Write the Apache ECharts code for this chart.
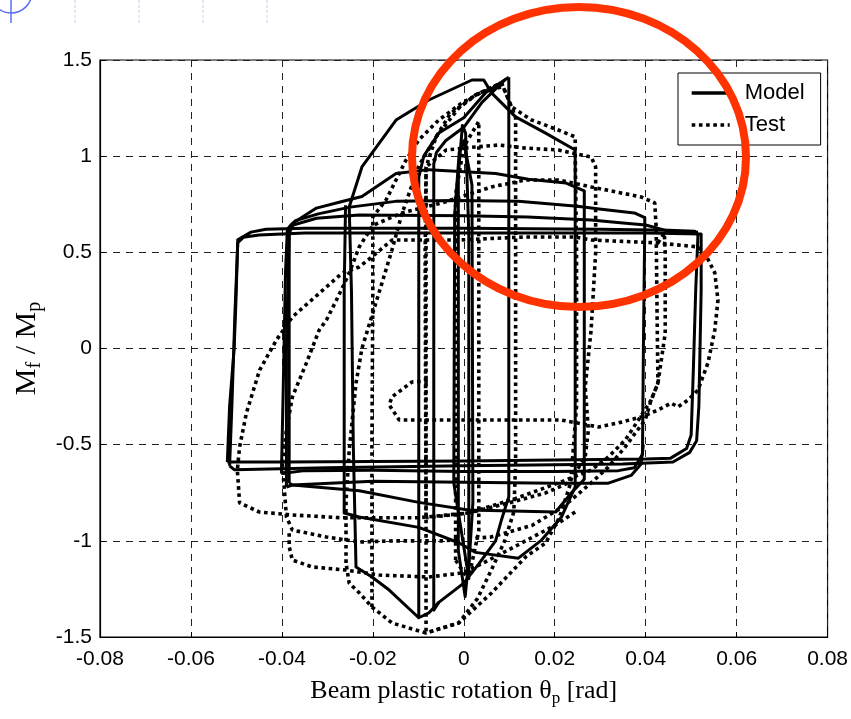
<!DOCTYPE html>
<html><head><meta charset="utf-8">
<script src="https://cdn.jsdelivr.net/npm/echarts@6/dist/echarts.min.js"></script>
<style>html,body{margin:0;padding:0;background:#fff}#c{width:851px;height:719px}</style>
</head><body><div id="c"></div>
<script>
// ---- axis ranges / ticks ----
const X_MIN = -0.08, X_MAX = 0.08, X_STEP = 0.02;
const Y_MIN = -1.5, Y_MAX = 1.5, Y_STEP = 0.5;

// ---- Model (solid) hysteresis paths: [rotation, Mf/Mp] ----
const modelSpikeA = [[-0.0012,-1.05],[-0.0012,0.9],[-0.0003,1.16],[0.0004,1.12],[0.0011,0.6],[0.0011,-1.1],[0.0003,-1.29],[-0.0012,-1.05]];
const modelSpikeB = [[-0.0022,-0.7],[-0.002,0.7],[-0.001,1.02],[0.0,1.08],[0.0018,0.85],[0.002,-0.8],[0.001,-1.18],[-0.0022,-0.7]];
const modelCycle10 = [[0.0099,1.41],[0.0099,-0.77],[0.0083,-0.89],[0.007,-1.0],[0.0033,-1.12],[0.0,-1.22],[-0.0055,-1.32],[-0.0077,-1.375],[-0.0099,-1.40],[-0.0099,0.89],[-0.0088,1.0],[-0.0055,1.12],[0.0,1.20],[0.0048,1.33],[0.0092,1.40],[0.0099,1.41]];
const modelCycle07 = [[-0.0055,-1.32],[-0.0066,-1.36],[-0.0066,0.96],[-0.006,1.02],[-0.004,1.08],[0.0,1.15],[0.004,1.28],[0.0092,1.40]];
const modelCycle25 = [[-0.0099,-1.40],[-0.0164,-1.256],[-0.0202,-1.188],[-0.0237,-1.136],[-0.0243,-0.5],[-0.0247,0.3],[-0.0252,0.736],[-0.0224,0.944],[-0.0149,1.188],[-0.0077,1.292],[0.0018,1.396],[0.0044,1.396],[0.0061,1.329],[0.0114,1.204],[0.018,1.12],[0.0245,1.032],[0.0245,-0.72],[0.0215,-0.876],[0.0171,-0.996],[0.012,-1.09],[0.0026,-1.06],[-0.0011,-1.01],[-0.0099,-0.93],[-0.023,-0.876],[-0.0263,-0.855],[-0.0263,0.3],[-0.026,0.745]];
const modelCycle27 = [[-0.0384,-0.70],[-0.0384,0.63],[-0.0377,0.65],[-0.0324,0.73],[-0.0274,0.76],[-0.0224,0.79],[-0.0149,0.91],[-0.0077,0.93],[0.007,0.91],[0.0142,0.88],[0.0225,0.86],[0.0265,0.82],[0.0265,-0.68],[0.0237,-0.75],[0.0202,-0.85],[0.001,-0.84],[-0.0099,-0.80],[-0.023,-0.74],[-0.0377,-0.71],[-0.0384,-0.70]];
const modelCycle40 = [[-0.0401,-0.65],[-0.0397,-0.2],[-0.0392,0.4],[-0.0388,0.62],[-0.037,0.665],[-0.032,0.70],[-0.025,0.735],[-0.015,0.765],[-0.002,0.77],[0.012,0.765],[0.025,0.74],[0.0298,0.725],[0.0375,0.705],[0.0398,0.68],[0.0398,0.63],[0.0395,0.0],[0.0393,-0.55],[0.0375,-0.62],[0.034,-0.635],[0.02,-0.64],[0.0,-0.64],[-0.02,-0.633],[-0.035,-0.635],[-0.0401,-0.65]];
const modelPath40to52 = [[-0.039,-0.72],[-0.039,0.0],[-0.0384,0.6],[-0.0375,0.642],[-0.0324,0.677],[-0.023,0.694],[0.0,0.69],[0.014,0.684],[0.028,0.668],[0.035,0.652],[0.040,0.642],[0.045,0.61],[0.0515,0.605]];
const modelCycle40b = [[0.0395,-0.5],[0.039,-0.6],[0.0368,-0.66],[0.0318,-0.70],[0.02,-0.70],[0.0,-0.695],[-0.02,-0.69],[-0.0377,-0.71],[-0.039,-0.72]];
const modelCycle52a = [[-0.052,-0.59],[-0.0515,-0.3],[-0.0505,0.0],[-0.0501,0.25],[-0.0497,0.565],[-0.0468,0.605],[-0.0435,0.62],[-0.035,0.625],[0.0,0.625],[0.03,0.62],[0.045,0.615],[0.0508,0.61],[0.0515,0.59],[0.051,0.3],[0.0505,-0.1],[0.050,-0.45],[0.049,-0.52],[0.0455,-0.57],[0.04,-0.575],[0.0,-0.585],[-0.04,-0.59],[-0.052,-0.59]];
const modelCycle52b = [[-0.0515,-0.61],[-0.051,-0.3],[-0.0503,0.2],[-0.0497,0.55],[-0.0485,0.578],[-0.045,0.59],[-0.035,0.6],[0.0,0.6],[0.04,0.6],[0.0522,0.595],[0.0522,0.3],[0.0517,-0.3],[0.0512,-0.48],[0.0497,-0.54],[0.046,-0.59],[0.035,-0.60],[0.0,-0.61],[-0.03,-0.62],[-0.0505,-0.63],[-0.0515,-0.61]];

// ---- Test (dotted) hysteresis paths ----
const testSmall = [[-0.0018,-1.1],[-0.0018,0.8],[0.0,1.05],[0.0033,1.18],[0.0033,-0.95],[0.001,-1.2],[-0.0018,-1.1]];
const testCycle10 = [[-0.0083,-1.47],[-0.0083,-0.5],[-0.0083,0.5],[-0.0083,0.944],[-0.0061,1.1],[-0.003,1.22],[0.0026,1.318],[0.0083,1.381],[0.0105,1.256],[0.0114,1.2],[0.0114,0.0],[0.0114,-0.6],[0.011,-0.85],[0.009,-1.0],[0.0061,-1.15],[0.003,-1.3],[-0.0011,-1.427],[-0.0083,-1.479]];
const testCycle20 = [[-0.0202,-1.344],[-0.0202,-0.5],[-0.020,0.3],[-0.020,0.684],[-0.0171,0.772],[-0.0149,0.876],[-0.0127,0.98],[-0.0099,1.084],[-0.0055,1.188],[-0.0004,1.277],[0.004,1.334],[0.0083,1.36]];
const testCycle25 = [[-0.0259,-1.115],[-0.0259,-0.8],[-0.0252,-0.53],[-0.0237,-0.18],[-0.0224,0.0],[-0.0202,0.17],[-0.018,0.34],[-0.0158,0.512],[-0.0136,0.70],[-0.0099,0.95],[-0.0061,1.10],[-0.0011,1.25],[0.0026,1.318],[0.0083,1.381],[0.0105,1.256],[0.0149,1.188],[0.0208,1.136],[0.0245,1.1],[0.0245,1.03],[0.0248,0.5],[0.0248,-0.3],[0.0235,-0.7],[0.021,-0.88],[0.018,-1.011],[0.0136,-1.084],[0.0061,-1.271],[-0.0011,-1.427],[-0.0083,-1.479],[-0.0158,-1.427],[-0.0202,-1.344],[-0.023,-1.27],[-0.0252,-1.22],[-0.0259,-1.115]];
const testCycle29 = [[-0.0083,-0.88],[-0.0085,0.5],[-0.0083,0.944],[-0.0039,1.032],[0.0026,1.048],[0.0077,1.058],[0.0136,1.042],[0.0208,1.032],[0.028,0.996],[0.029,0.944],[0.029,0.5],[0.028,0.096],[0.0267,-0.2],[0.0274,-0.424],[0.0267,-0.564],[0.0245,-0.647],[0.023,-0.699],[0.018,-0.751],[0.0099,-0.803],[0.0011,-0.855],[-0.0083,-0.88]];
const testCycle42 = [[-0.0399,-0.596],[-0.039,-0.424],[-0.0377,-0.252],[-0.0346,-0.075],[-0.0318,0.096],[-0.0302,0.148],[-0.028,0.252],[-0.0252,0.392],[-0.023,0.528],[-0.020,0.64],[-0.0136,0.705],[-0.0048,0.757],[0.0061,0.84],[0.0136,0.876],[0.0208,0.876],[0.028,0.84],[0.039,0.788],[0.042,0.757],[0.0423,0.632],[0.0425,0.2],[0.0427,-0.18],[0.0412,-0.268],[0.0399,-0.372],[0.0377,-0.44],[0.0355,-0.512],[0.0318,-0.616],[0.028,-0.699],[0.022,-0.82],[0.015,-0.92],[0.006,-0.98],[-0.005,-1.0],[-0.015,-1.0],[-0.023,-1.006],[-0.0302,-0.98],[-0.0377,-0.944],[-0.039,-0.876],[-0.0399,-0.596]];
const testPath44 = [[0.0427,0.549],[0.0441,0.6],[0.0443,0.5],[0.0443,0.08],[0.0427,-0.18],[0.0412,-0.268],[0.0384,-0.372],[0.0355,-0.476],[0.0318,-0.564],[0.028,-0.632],[0.0208,-0.699],[0.0114,-0.78],[0.0011,-0.855]];
const testLower17 = [[0.0245,-0.85],[0.02,-0.92],[0.0136,-1.0],[0.008,-1.07],[0.003,-1.13],[-0.0004,-1.167],[-0.0077,-1.188],[-0.0186,-1.178],[-0.0259,-1.152],[-0.0333,-1.136],[-0.0377,-1.1],[-0.0384,-1.03],[-0.0384,-0.944]];
const testCycle55 = [[0.0011,-0.855],[-0.01,-0.88],[-0.027,-0.88],[-0.038,-0.865],[-0.045,-0.85],[-0.0493,-0.803],[-0.0498,-0.632],[-0.0493,-0.512],[-0.0478,-0.335],[-0.0449,-0.112],[-0.0412,0.044],[-0.0377,0.164],[-0.0302,0.32],[-0.0267,0.393],[-0.023,0.424],[-0.0202,0.476],[-0.0158,0.564],[-0.0083,0.564],[-0.0011,0.564],[0.0136,0.58],[0.0245,0.58],[0.028,0.564],[0.0427,0.549],[0.0515,0.528],[0.053,0.497],[0.0552,0.393],[0.0559,0.252],[0.0552,0.096],[0.0537,-0.075],[0.0515,-0.216],[0.0493,-0.268],[0.0471,-0.304],[0.0456,-0.284],[0.0427,-0.32],[0.039,-0.356],[0.034,-0.387],[0.0296,-0.408],[0.0215,-0.372],[0.0,-0.372],[-0.0077,-0.372],[-0.0142,-0.372],[-0.0164,-0.294],[-0.0158,-0.252],[-0.0114,-0.174],[-0.0077,-0.169]];

const modelPaths = [modelSpikeA, modelSpikeB, modelCycle10, modelCycle07, modelCycle25, modelCycle27, modelCycle40, modelPath40to52, modelCycle40b, modelCycle52a, modelCycle52b];
const testPaths = [testSmall, testCycle10, testCycle20, testCycle25, testCycle29, testCycle42, testPath44, testLower17, testCycle55];

const series = [];
modelPaths.forEach(p => series.push({
  name: 'Model', type: 'line', data: p, showSymbol: false, symbol: 'none', silent: true, z: 3,
  lineStyle: { color: '#000', width: 3, type: 'solid', join: 'round' }, itemStyle: { color: '#000' }
}));
testPaths.forEach(p => series.push({
  name: 'Test', type: 'line', data: p, showSymbol: false, symbol: 'none', silent: true, z: 4,
  lineStyle: { color: '#000', width: 3.6, type: [3.6, 3.6], cap: 'butt' }, itemStyle: { color: '#000' }
}));

const chart = echarts.init(document.getElementById('c'), null, { renderer: 'canvas' });
const lbl = { fontFamily: '"Liberation Sans Narrow", "Liberation Sans", Arial', fontSize: 21, color: '#000' };
const serif = '"Liberation Serif", "Times New Roman", serif';

// decorative slide marks (not data)
const deco = [];
[75, 139, 203, 267].forEach(x => deco.push({ type: 'line', shape: { x1: x, y1: 0, x2: x, y2: 23 }, style: { stroke: '#c5cdf3', lineWidth: 1, lineDash: [3, 2] } }));
deco.push({ type: 'circle', shape: { cx: 11, cy: -8, r: 21 }, style: { fill: 'none', stroke: '#5a6ff5', lineWidth: 1.5 } });
deco.push({ type: 'line', shape: { x1: 11, y1: 0, x2: 11, y2: 23 }, style: { stroke: '#5a6ff5', lineWidth: 1.5 } });
deco.push({ type: 'ellipse', shape: { cx: 579, cy: 157, rx: 167, ry: 150 }, style: { fill: 'none', stroke: '#ff3300', lineWidth: 8 }, z: 100 });

chart.setOption({
  animation: false,
  backgroundColor: '#fff',
  grid: { left: 100, top: 60, width: 730, height: 577, show: true, borderColor: '#000', borderWidth: 1.2, backgroundColor: 'transparent' },
  legend: {
    data: ['Model', 'Test'], orient: 'vertical', left: 678, top: 73, selectedMode: false,
    itemWidth: 38, itemHeight: 22, itemGap: 10, padding: [9, 16, 9, 12],
    itemStyle: { opacity: 0 },
    lineStyle: { width: 3.4 },
    borderColor: '#000', borderWidth: 1, backgroundColor: '#fff', z: 50,
    textStyle: { fontFamily: lbl.fontFamily, fontSize: 22, color: '#000', padding: [0, 0, 0, 10] }
  },
  xAxis: {
    type: 'value', min: X_MIN, max: X_MAX, interval: X_STEP,
    axisLine: { show: true, onZero: false, lineStyle: { color: '#000', width: 1.2 } },
    axisTick: { show: true, inside: true, length: 5, lineStyle: { color: '#000' } },
    splitLine: { show: true, lineStyle: { color: '#222', width: 1, type: [7, 6] } },
    axisLabel: Object.assign({ margin: 12, formatter: v => String(+v.toFixed(2)) }, lbl),
    name: 'Beam plastic rotation θ{sub|p} [rad]', nameLocation: 'middle', nameGap: 44,
    nameTextStyle: { fontFamily: serif, fontSize: 26, color: '#000', lineHeight: 32, verticalAlign: 'middle',
      rich: { sub: { fontFamily: serif, fontSize: 17, lineHeight: 15, verticalAlign: 'bottom', color: '#000' } } }
  },
  yAxis: {
    type: 'value', min: Y_MIN, max: Y_MAX, interval: Y_STEP,
    axisLine: { show: true, onZero: false, lineStyle: { color: '#000', width: 1.2 } },
    axisTick: { show: true, inside: true, length: 5, lineStyle: { color: '#000' } },
    splitLine: { show: true, lineStyle: { color: '#222', width: 1, type: [7, 6] } },
    axisLabel: Object.assign({ margin: 8, formatter: v => String(+v.toFixed(1)) }, lbl),
    name: 'M{sub|f} / M{sub|p}', nameLocation: 'middle', nameGap: 60, nameRotate: 90,
    nameTextStyle: { fontFamily: serif, fontSize: 30, color: '#000', lineHeight: 36, verticalAlign: 'middle',
      rich: { sub: { fontFamily: serif, fontSize: 20, lineHeight: 18, verticalAlign: 'bottom', color: '#000' } } }
  },
  graphic: { elements: deco },
  series: series
});
</script></body></html>
